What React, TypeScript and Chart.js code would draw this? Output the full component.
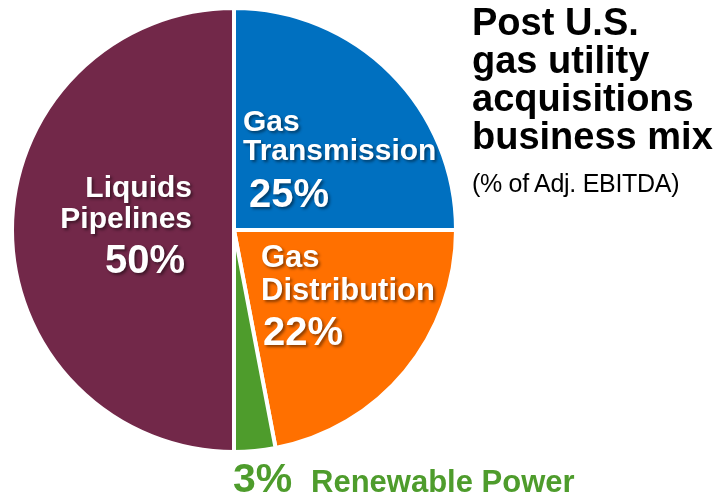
import React, { useEffect, useRef } from "react";
import { Chart, registerables } from "chart.js";

Chart.register(...registerables);

// ---- data ----
const categories = ["Gas Transmission", "Gas Distribution", "Renewable Power", "Liquids Pipelines"];
const labelLines = [["Gas", "Transmission"], ["Gas", "Distribution"], ["Renewable Power"], ["Liquids", "Pipelines"]];
const shares = [25, 22, 3, 50];
const sliceColors = ["#0070C0", "#FF7000", "#4E9C2C", "#722849"];
const titleLines = ["Post U.S.", "gas utility", "acquisitions", "business mix"];
const subtitle = "(% of Adj. EBITDA)";

// ---- label layout (offsets from pie centre) ----
type LabelLayout = {
  align: CanvasTextAlign;
  nameX: number;
  nameY: number[];
  pctX: number;
  pctY: number;
  color: string;
  shadow: boolean;
  nameSize: number;
  pctSize: number;
};
const labelLayout: LabelLayout[] = [
  { align: "left", nameX: 9, nameY: [-99, -70], pctX: 15, pctY: -23, color: "#fff", shadow: true, nameSize: 30, pctSize: 40 },
  { align: "left", nameX: 27, nameY: [37, 70], pctX: 29, pctY: 115, color: "#fff", shadow: true, nameSize: 31, pctSize: 40 },
  { align: "left", nameX: 77, nameY: [262], pctX: -1, pctY: 262, color: "#4E9C2C", shadow: false, nameSize: 31, pctSize: 41 },
  { align: "right", nameX: -42, nameY: [-33, -2], pctX: -49, pctY: 43, color: "#fff", shadow: true, nameSize: 30, pctSize: 40 },
];

const FONT = "'Liberation Sans', Arial, Helvetica, sans-serif";

const sliceLabelPlugin = {
  id: "sliceLabels",
  afterDatasetsDraw(chart: any) {
    const meta = chart.getDatasetMeta(0);
    if (!meta || !meta.data.length) return;
    const cx = meta.data[0].x;
    const cy = meta.data[0].y;
    const ctx: CanvasRenderingContext2D = chart.ctx;
    ctx.save();
    ctx.textBaseline = "alphabetic";
    shares.forEach((v, i) => {
      const L = labelLayout[i];
      ctx.fillStyle = L.color;
      ctx.textAlign = L.align;
      if (L.shadow) {
        ctx.shadowColor = "rgba(0,0,0,0.45)";
        ctx.shadowOffsetX = 2;
        ctx.shadowOffsetY = 2;
        ctx.shadowBlur = 3;
      } else {
        ctx.shadowColor = "rgba(0,0,0,0)";
        ctx.shadowOffsetX = 0;
        ctx.shadowOffsetY = 0;
        ctx.shadowBlur = 0;
      }
      ctx.font = `bold ${L.nameSize}px ${FONT}`;
      labelLines[i].forEach((line, j) => {
        ctx.fillText(line, cx + L.nameX, cy + L.nameY[j]);
      });
      ctx.font = `bold ${L.pctSize}px ${FONT}`;
      ctx.fillText(`${v}%`, cx + L.pctX, cy + L.pctY);
    });
    ctx.restore();
  },
};

export default function App() {
  const canvasRef = useRef<HTMLCanvasElement | null>(null);

  useEffect(() => {
    document.body.style.margin = "0";
    const canvas = canvasRef.current;
    if (!canvas) return;
    const chart = new Chart(canvas, {
      type: "pie",
      data: {
        labels: categories,
        datasets: [
          {
            data: shares,
            backgroundColor: sliceColors,
            borderColor: "#ffffff",
            borderWidth: 4,
            hoverOffset: 0,
          },
        ],
      },
      options: {
        responsive: false,
        animation: false,
        devicePixelRatio: 1,
        layout: { padding: { left: 10, right: 263, top: 6, bottom: 42 } },
        plugins: {
          legend: { display: false },
          tooltip: { enabled: false },
        },
        events: [],
      },
      plugins: [sliceLabelPlugin],
    });
    return () => chart.destroy();
  }, []);

  return (
    <div style={{ position: "absolute", left: 0, top: 0, width: 721, height: 496, background: "#fff", overflow: "hidden" }}>
      <canvas ref={canvasRef} width={721} height={496} style={{ display: "block", width: 721, height: 496 }} />
      <div
        style={{
          position: "absolute",
          left: 472,
          top: 3,
          fontFamily: FONT,
          fontWeight: "bold",
          fontSize: 38,
          lineHeight: "38px",
          color: "#000",
          whiteSpace: "nowrap",
        }}
      >
        {titleLines.map((t) => (
          <div key={t}>{t}</div>
        ))}
      </div>
      <div
        style={{
          position: "absolute",
          left: 472,
          top: 171,
          fontFamily: FONT,
          fontSize: 25,
          lineHeight: "25px",
          color: "#000",
          whiteSpace: "nowrap",
          letterSpacing: "-0.3px",
        }}
      >
        {subtitle}
      </div>
    </div>
  );
}
